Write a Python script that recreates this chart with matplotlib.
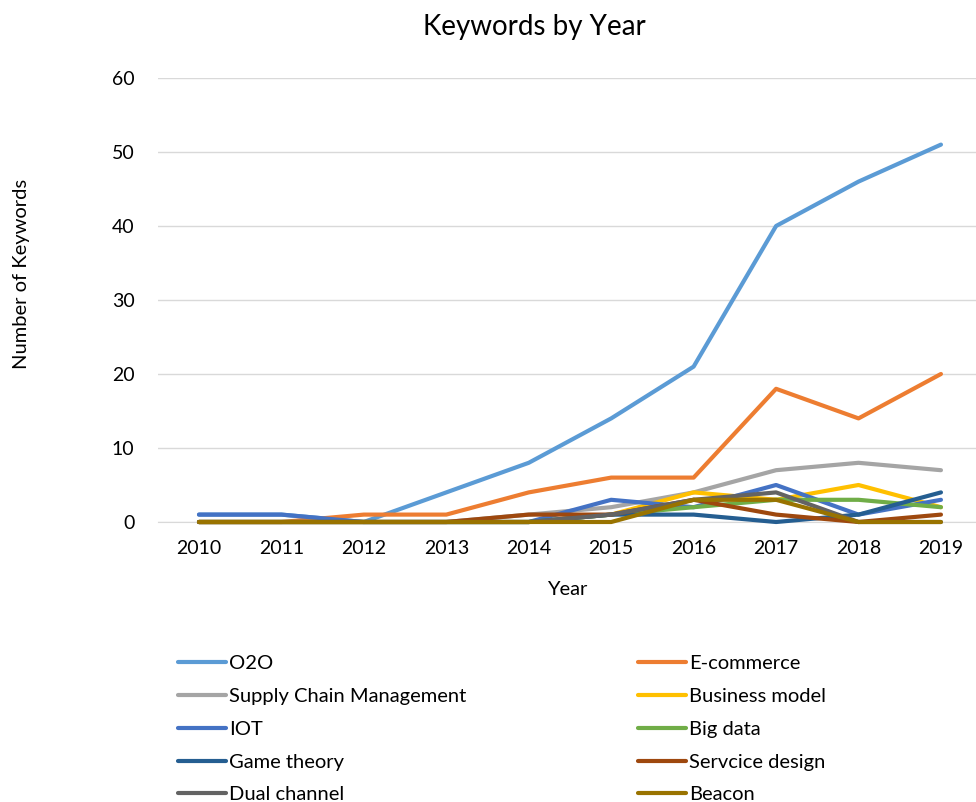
import matplotlib.pyplot as plt

plt.rcParams['font.family'] = ['Lato', 'DejaVu Sans']

years = ['2010', '2011', '2012', '2013', '2014', '2015', '2016', '2017', '2018', '2019']

o2o = [1, 1, 0, 4, 8, 14, 21, 40, 46, 51]
ecommerce = [0, 0, 1, 1, 4, 6, 6, 18, 14, 20]
supply_chain = [0, 0, 0, 0, 1, 2, 4, 7, 8, 7]
business_model = [0, 0, 0, 0, 0, 1, 4, 3, 5, 2]
iot = [1, 1, 0, 0, 0, 3, 2, 5, 1, 3]
big_data = [0, 0, 0, 0, 0, 1, 2, 3, 3, 2]
game_theory = [0, 0, 0, 0, 0, 1, 1, 0, 1, 4]
service_design = [0, 0, 0, 0, 1, 1, 3, 1, 0, 1]
dual_channel = [0, 0, 0, 0, 0, 1, 3, 4, 0, 0]
beacon = [0, 0, 0, 0, 0, 0, 3, 3, 0, 0]

series = [
    ('O2O', o2o, '#5B9BD5'),
    ('E-commerce', ecommerce, '#ED7D31'),
    ('Supply Chain Management', supply_chain, '#A5A5A5'),
    ('Business model', business_model, '#FFC000'),
    ('IOT', iot, '#4472C4'),
    ('Big data', big_data, '#70AD47'),
    ('Game theory', game_theory, '#255E91'),
    ('Servcice design', service_design, '#9E480E'),
    ('Dual channel', dual_channel, '#636363'),
    ('Beacon', beacon, '#997300'),
]

fig = plt.figure(figsize=(9.76, 8.02), dpi=100)
ax = fig.add_axes([158 / 976, 280 / 802, 818 / 976, 444 / 802])

x = range(len(years))
handles = []
for name, vals, color in series:
    line, = ax.plot(x, vals, color=color, lw=3.0, label=name,
                    solid_capstyle='round', clip_on=False, zorder=3)
    handles.append(line)

ax.set_xlim(-0.497, 9.425)
ax.set_ylim(0, 60)
ax.set_yticks(range(0, 61, 10))
ax.set_xticks(list(x))
ax.set_xticklabels(years)
ax.grid(axis='y', color='#D9D9D9', lw=1)
ax.set_axisbelow(True)
for side in ['top', 'right', 'left']:
    ax.spines[side].set_visible(False)
ax.spines['bottom'].set_color('#D9D9D9')
ax.tick_params(axis='both', length=0, labelsize=14, colors='#000000')
ax.tick_params(axis='y', pad=17)
ax.tick_params(axis='x', pad=13)

ax.set_xlabel('Year', fontsize=14.5, labelpad=17)
fig.text(22 / 976, 1 - 274 / 802, 'Number of Keywords', fontsize=14.5,
         rotation=90, ha='center', va='center')
fig.text(534 / 976, 1 - 27 / 802, 'Keywords by Year', fontsize=20,
         ha='center', va='center')

# two-column legend below the plot, filled row by row
order = [0, 2, 4, 6, 8, 1, 3, 5, 7, 9]
leg = fig.legend([handles[i] for i in order], [series[i][0] for i in order],
                 ncol=2, loc='upper left', bbox_to_anchor=(160 / 976, 1 - 637 / 802),
                 frameon=False, fontsize=14.5, handlelength=2.4, handletextpad=0.15,
                 labelspacing=0.78, columnspacing=8.5)

fig.savefig('out.png', dpi=100)
